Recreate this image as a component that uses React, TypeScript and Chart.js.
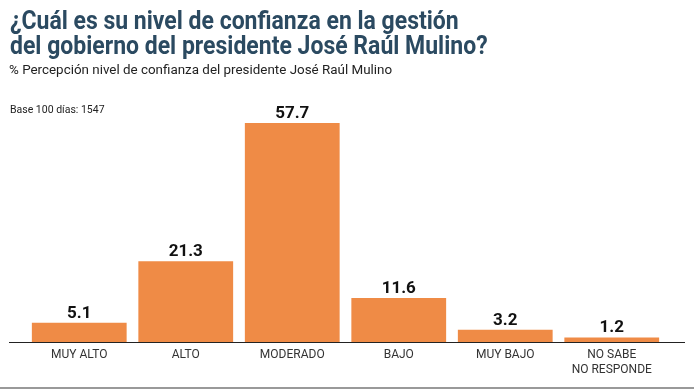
import React, { useEffect, useRef } from "react";
import { Chart, registerables } from "chart.js";

Chart.register(...registerables);

const categories: (string | string[])[] = [
  "MUY ALTO",
  "ALTO",
  "MODERADO",
  "BAJO",
  "MUY BAJO",
  ["NO SABE", "NO RESPONDE"],
];
const values: number[] = [5.1, 21.3, 57.7, 11.6, 3.2, 1.2];

const TITLE_1 = "¿Cuál es su nivel de confianza en la gestión";
const TITLE_2 = "del gobierno del presidente José Raúl Mulino?";
const SUBTITLE = "% Percepción nivel de confianza del presidente José Raúl Mulino";
const BASE_NOTE = "Base 100 días: 1547";

const BAR_COLOR = "#EF8B46";

const valueLabels = {
  id: "valueLabels",
  afterDatasetsDraw(chart: any) {
    const ctx = chart.ctx;
    const meta = chart.getDatasetMeta(0);
    ctx.save();
    ctx.font = "bold 17px Roboto";
    ctx.fillStyle = "#111111";
    ctx.textAlign = "center";
    ctx.textBaseline = "alphabetic";
    meta.data.forEach((bar: any, i: number) => {
      ctx.fillText(values[i].toFixed(1), bar.x, bar.y - 5);
    });
    ctx.restore();
  },
};

const baseLine = {
  id: "baseLine",
  afterDatasetsDraw(chart: any) {
    const ctx = chart.ctx;
    const y = chart.scales.y.getPixelForValue(0);
    const { left, right } = chart.chartArea;
    ctx.save();
    ctx.strokeStyle = "#222222";
    ctx.lineWidth = 1;
    ctx.beginPath();
    ctx.moveTo(left - 17, Math.round(y) + 0.5);
    ctx.lineTo(right + 20, Math.round(y) + 0.5);
    ctx.stroke();
    ctx.restore();
  },
};

function BarChart() {
  const ref = useRef<HTMLCanvasElement | null>(null);
  useEffect(() => {
    if (!ref.current) return;
    const chart = new Chart(ref.current, {
      type: "bar",
      data: {
        labels: categories as any,
        datasets: [
          {
            data: values,
            backgroundColor: BAR_COLOR,
            borderWidth: 0,
            barPercentage: 0.89,
            categoryPercentage: 1,
          },
        ],
      },
      options: {
        animation: false,
        responsive: false,
        maintainAspectRatio: false,
        layout: { padding: { top: 99, left: 26, right: 29, bottom: 8 } },
        plugins: {
          legend: { display: false },
          tooltip: { enabled: false },
          title: { display: false },
        },
        scales: {
          x: {
            grid: { display: false, drawTicks: false },
            border: { display: false },
            ticks: {
              color: "#333333",
              font: { family: "Roboto", size: 12, lineHeight: 1.25 },
              padding: 5,
              maxRotation: 0,
              autoSkip: false,
            },
          },
          y: {
            display: false,
            min: 0,
            max: 64,
          },
        },
      },
      plugins: [valueLabels, baseLine],
    });
    return () => chart.destroy();
  }, []);
  return (
    <canvas
      ref={ref}
      width={694}
      height={390}
      style={{ position: "absolute", left: 0, top: 0, width: 694, height: 390 }}
    />
  );
}

export default function App() {
  const titleStyle: React.CSSProperties = {
    position: "absolute",
    left: 10,
    fontFamily: "Roboto",
    fontWeight: 700,
    fontSize: 25,
    lineHeight: "25px",
    color: "#2B4A61",
    whiteSpace: "nowrap",
    transformOrigin: "left top",
    transform: "scaleX(0.92)",
  };
  return (
    <div
      style={{
        position: "fixed",
        left: 0,
        top: 0,
        width: 694,
        height: 390,
        background: "#ffffff",
        overflow: "hidden",
      }}
    >
      <BarChart />
      <div style={{ ...titleStyle, top: 8 }}>{TITLE_1}</div>
      <div style={{ ...titleStyle, top: 33 }}>{TITLE_2}</div>
      <div
        style={{
          position: "absolute",
          left: 9,
          top: 62,
          fontFamily: "Roboto",
          fontSize: 13.4,
          lineHeight: "15px",
          color: "#222222",
          whiteSpace: "nowrap",
        }}
      >
        {SUBTITLE}
      </div>
      <div
        style={{
          position: "absolute",
          left: 10,
          top: 104,
          fontFamily: "Roboto",
          fontSize: 10.5,
          lineHeight: "12px",
          color: "#222222",
          whiteSpace: "nowrap",
        }}
      >
        {BASE_NOTE}
      </div>
      <div
        style={{
          position: "absolute",
          left: 0,
          top: 387,
          width: 694,
          height: 2,
          background: "#999999",
        }}
      />
    </div>
  );
}
